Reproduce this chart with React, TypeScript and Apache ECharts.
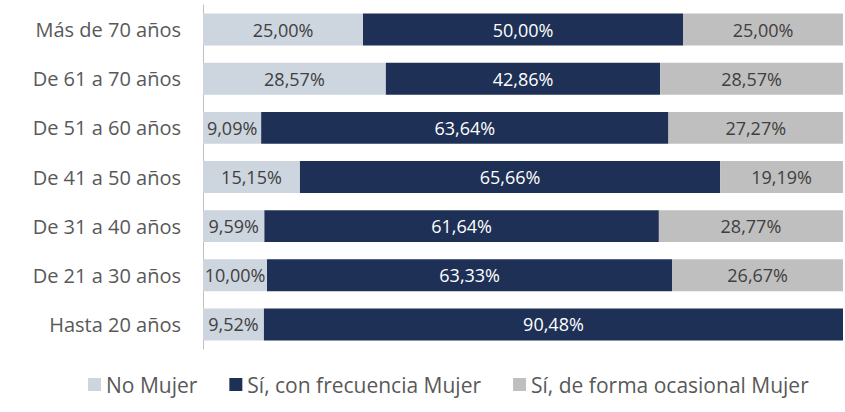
import React, { useEffect, useRef } from "react";
import * as echarts from "echarts";

const categories = [
  "Hasta 20 años",
  "De 21 a 30 años",
  "De 31 a 40 años",
  "De 41 a 50 años",
  "De 51 a 60 años",
  "De 61 a 70 años",
  "Más de 70 años",
];
const noMujer = [9.52, 10.0, 9.59, 15.15, 9.09, 28.57, 25.0];
const frecuenciaMujer = [90.48, 63.33, 61.64, 65.66, 63.64, 42.86, 50.0];
const ocasionalMujer = [0, 26.67, 28.77, 19.19, 27.27, 28.57, 25.0];

const seriesNames = ["No Mujer", "Sí, con frecuencia Mujer", "Sí, de forma ocasional Mujer"];
const colors = ["#CDD5DF", "#1E3055", "#BFBFBF"];
const labelColors = ["#404040", "#FFFFFF", "#404040"];

const FONT = "Open Sans";

const fmt = (v: number) => v.toFixed(2).replace(".", ",") + "%";

export default function App() {
  const ref = useRef<HTMLDivElement>(null);
  useEffect(() => {
    if (!ref.current) return;
    const chart = echarts.init(ref.current, null, { renderer: "svg" });
    const dataSets = [noMujer, frecuenciaMujer, ocasionalMujer];
    chart.setOption({
      animation: false,
      textStyle: { fontFamily: FONT },
      grid: { left: 203, right: 2, top: 5, bottom: 63, containLabel: false },
      legend: {
        top: 369,
        left: 83,
        itemWidth: 13,
        itemHeight: 13,
        itemGap: 32,
        icon: "rect",
        textStyle: { fontFamily: FONT, fontSize: 21, color: "#595959" },
        data: seriesNames,
      },
      xAxis: {
        type: "value",
        min: 0,
        max: 100,
        show: false,
      },
      yAxis: {
        type: "category",
        data: categories,
        axisLine: { show: true, lineStyle: { color: "#BFBFBF", width: 1 } },
        axisTick: { show: false },
        axisLabel: { fontFamily: FONT, fontSize: 20, color: "#595959", margin: 22 },
        splitLine: { show: false },
      },
      series: dataSets.map((d, i) => ({
        name: seriesNames[i],
        type: "bar",
        stack: "total",
        barCategoryGap: "35%",
        itemStyle: { color: colors[i] },
        label: {
          show: true,
          position: "inside",
          fontFamily: FONT,
          fontSize: 18,
          color: labelColors[i],
          formatter: (p: any) => (p.value > 0 ? fmt(p.value) : ""),
        },
        data: d,
      })),
    });
    return () => chart.dispose();
  }, []);
  return (
    <div
      ref={ref}
      style={{ position: "absolute", left: 0, top: 0, width: 845, height: 412 }}
    />
  );
}
